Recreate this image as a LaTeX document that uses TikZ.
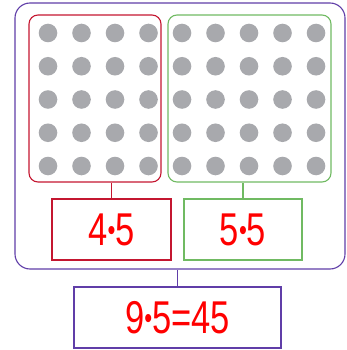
\documentclass[tikz,border=0pt]{standalone}
\usepackage{fontspec}
\usepackage{graphicx}
\setmainfont{Liberation Sans}
\usetikzlibrary{calc,positioning}
\definecolor{groupPurple}{RGB}{96,62,168}
\definecolor{groupRed}{RGB}{196,22,48}
\definecolor{groupGreen}{RGB}{112,186,98}
\definecolor{dotGray}{RGB}{168,169,173}
\definecolor{numRed}{RGB}{255,0,0}
\tikzset{
  grouprect/.style={draw, line width=1.1pt, minimum width=#1, inner sep=0pt},
  factbox/.style={draw=#1, line width=1.1pt, inner sep=0pt, minimum height=61pt,
    text=numRed, font=\fontsize{46}{46}\selectfont},
  dotfill/.style={fill=dotGray}
}
\newcommand{\narrow}[1]{\scalebox{0.75}[1]{#1}}
\newcommand{\tdot}{\raisebox{5pt}{\fontsize{30}{30}\selectfont•}}

\begin{document}
\begin{tikzpicture}[x=1pt,y=-1pt]
\useasboundingbox (0,0) rectangle (346,350);

% outer group and the two arrays
\node[grouprect=330pt, groupPurple, minimum height=266pt, rounded corners=15pt] (allgroup) at (180,136) {};
\node[grouprect=132pt, groupRed, minimum height=167pt, rounded corners=9pt] (redgroup) at (95,98.5) {};
\node[grouprect=163pt, groupGreen, minimum height=167pt, rounded corners=9pt] (greengroup) at (249.5,98.5) {};

% dots
\foreach \row in {0,...,4} {
  \foreach \col in {0,...,3}
    \fill[dotfill] (48+33.5*\col, 33+33.25*\row) circle (9.3);
  \foreach \col in {0,...,4}
    \fill[dotfill] (182+33.5*\col, 33+33.25*\row) circle (9.3);
}

% fact boxes
\node[factbox=groupRed, minimum width=119pt] (leftfact) at (111.5,229.5) {\narrow{4\tdot5}};
\node[factbox=groupGreen, minimum width=118pt] (rightfact) at (243,229.5) {\narrow{5\tdot5}};
\node[factbox=groupPurple, minimum width=207pt] (totalfact) at (177.5,317.5) {\narrow{9\tdot5=45}};

\draw[groupRed, line width=1.1pt] (leftfact.north) -- (leftfact.north |- redgroup.south);
\draw[groupGreen, line width=1.1pt] (rightfact.north) -- (rightfact.north |- greengroup.south);
\draw[groupPurple, line width=1.1pt] (totalfact.north) -- (totalfact.north |- allgroup.south);
\end{tikzpicture}
\end{document}
